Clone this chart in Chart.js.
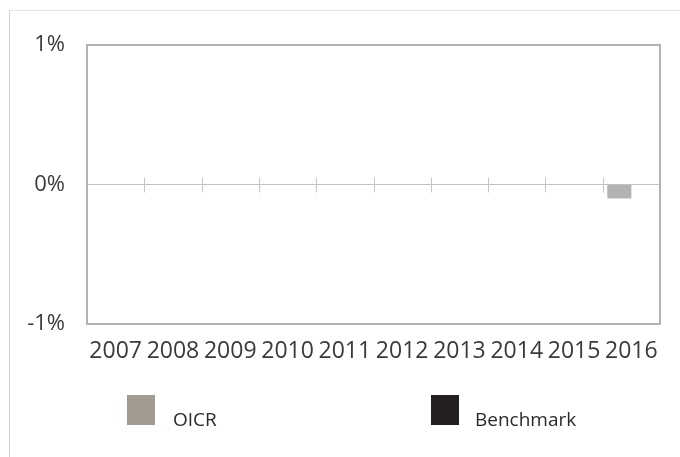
<!DOCTYPE html>
<html>
<head>
<meta charset="utf-8">
<script src="https://cdn.jsdelivr.net/npm/chart.js@4"></script>
<style>
  html, body { margin: 0; padding: 0; background: #fff; }
  #wrap { position: relative; width: 680px; height: 457px; overflow: hidden; }
  #outer { position: absolute; left: 9px; top: 10px; right: -2px; bottom: -2px;
           border-top: 1px solid #e4e4e4; border-left: 1px solid #cfcfcf; }
  #cv { position: absolute; left: 0; top: 0; }
  .lg { position: absolute; font-family: "Open Sans", sans-serif; font-size: 19px; color: #2a2a2a; line-height: 1; }
  .box { position: absolute; width: 28px; height: 30px; }
</style>
</head>
<body>
<div id="wrap">
  <div id="outer"></div>
  <canvas id="cv" width="680" height="457"></canvas>
  <div id="legend"></div>
</div>
<script>
const categories = ["2007","2008","2009","2010","2011","2012","2013","2014","2015","2016"];
const oicrValues = [null,null,null,null,null,null,null,null,null,-0.1];
const benchmarkValues = [null,null,null,null,null,null,null,null,null,0];
const yTicks = [-1, 0, 1];
const seriesNames = ["OICR", "Benchmark"];
const legendColors = ["#a39a92", "#231f20"];

// HTML legend
const legendPos = [{box: 127, text: 173}, {box: 431, text: 475}];
const lg = document.getElementById('legend');
seriesNames.forEach((n, i) => {
  const b = document.createElement('div');
  b.className = 'box';
  b.style.left = legendPos[i].box + 'px';
  b.style.top = '395px';
  b.style.background = legendColors[i];
  lg.appendChild(b);
  const t = document.createElement('div');
  t.className = 'lg';
  t.style.left = legendPos[i].text + 'px';
  t.style.top = '410px';
  t.textContent = n;
  lg.appendChild(t);
});

const framePlugin = {
  id: 'frame',
  beforeDatasetsDraw(chart) {
    const ctx = chart.ctx, x = chart.scales.x, y = chart.scales.y;
    const y0 = y.getPixelForValue(0);
    ctx.save();
    ctx.strokeStyle = '#c6c6c6';
    ctx.lineWidth = 1;
    for (let i = 1; i < categories.length; i++) {
      const px = Math.round((x.getPixelForValue(i - 1) + x.getPixelForValue(i)) / 2) + 0.5;
      ctx.beginPath();
      ctx.moveTo(px, y0 - 7);
      ctx.lineTo(px, y0 + 8);
      ctx.stroke();
    }
    ctx.restore();
  },
  afterDatasetsDraw(chart) {
    const ctx = chart.ctx, a = chart.chartArea;
    ctx.save();
    ctx.strokeStyle = '#b2b2b2';
    ctx.lineWidth = 2;
    ctx.strokeRect(a.left, a.top, a.right - a.left, a.bottom - a.top);
    ctx.restore();
  }
};

new Chart(document.getElementById('cv'), {
  type: 'bar',
  data: {
    labels: categories,
    datasets: [
      { label: seriesNames[0], data: oicrValues, backgroundColor: '#b3b3b3', borderWidth: 0 },
      { label: seriesNames[1], data: benchmarkValues, backgroundColor: '#231f20', borderWidth: 0 }
    ]
  },
  options: {
    responsive: false,
    animation: false,
    events: [],
    layout: { padding: { left: 0, top: 45, right: 20, bottom: 0 } },
    datasets: { bar: { categoryPercentage: 0.84, barPercentage: 1 } },
    plugins: { legend: { display: false }, tooltip: { enabled: false } },
    scales: {
      x: {
        grid: { display: false, drawTicks: false },
        border: { display: false },
        ticks: { padding: 14, color: '#3a3a3a', font: { family: 'Open Sans', size: 23 }, maxRotation: 0, autoSkip: false },
        afterFit(s) { s.height = 133; }
      },
      y: {
        min: -1, max: 1,
        afterBuildTicks(s) { s.ticks = yTicks.map(v => ({ value: v })); },
        grid: { drawTicks: false, color: c => c.tick && c.tick.value === 0 ? '#c2c2c2' : 'rgba(0,0,0,0)', lineWidth: 1 },
        border: { display: false },
        ticks: { padding: 22, color: '#3a3a3a', font: { family: 'Open Sans', size: 22 }, callback: v => v + '%' },
        afterFit(s) { s.width = 87; }
      }
    }
  },
  plugins: [framePlugin]
});
</script>
</body>
</html>
